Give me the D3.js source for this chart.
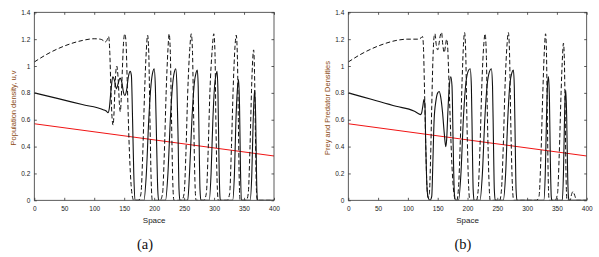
<!DOCTYPE html>
<html>
<head>
<meta charset="utf-8">
<script src="https://cdn.jsdelivr.net/npm/d3@7"></script>
<style>
  body { margin: 0; background: #fff; }
  .sans { font-family: "Liberation Sans", Arial, sans-serif; }
  .serif { font-family: "Liberation Serif", "Times New Roman", "DejaVu Serif", serif; }
</style>
</head>
<body>
<div id="area"></div>
<script>
// axis ticks
var spaceTicks = [0, 50, 100, 150, 200, 250, 300, 350, 400];
var densityTicks = [0, 0.2, 0.4, 0.6, 0.8, 1, 1.2, 1.4];

// (a) prey u, solid
var preyA = [[0,0.8],[40,0.757],[80,0.713],[115,0.675],[120,0.665],[123,0.652],[125,0.68],[128,0.82],
  [131,0.92],[134,0.89],[137,0.83],[140,0.87],[143,0.91],[146,0.88],[149,0.8],[151,0.78],[154,0.82],
  [157,0.92],[160,0.96],[162,0.93],[164,0.6],[166,0.2],[168,0],
  [183,0],[187,0.2],[191,0.6],[195,0.87],[198,0.96],[200,0.98],[202,0.85],[204,0.45],[206,0.08],[207.5,0],
  [219,0],[223,0.2],[227,0.6],[231,0.87],[234,0.96],[236,0.98],[238,0.85],[240,0.45],[241.5,0.08],[243,0],
  [256,0],[259,0.2],[263,0.6],[267,0.87],[270,0.95],[272,0.97],[273.5,0.85],[275,0.45],[276.5,0.08],[278,0],
  [292,0],[295,0.2],[298,0.6],[301,0.86],[303.5,0.94],[305,0.96],[306.5,0.8],[308,0.35],[309.5,0.05],[310.5,0],
  [331,0],[334,0.2],[336.5,0.6],[339,0.83],[341,0.9],[342.5,0.7],[344,0.25],[345.5,0],
  [360,0],[363,0.2],[365,0.55],[367,0.78],[368,0.82],[369.5,0.6],[371,0.15],[372.5,0],[400,0]];

// (a) predator v, dashed
var predA = [[0,1.03],[20,1.085],[40,1.13],[60,1.165],[80,1.19],[100,1.203],[110,1.2],[115,1.19],[118,1.178],
  [121,1.19],[124,1.22],[126,1.1],[128,0.8],[130,0.6],[131.5,0.56],[133,0.65],[135,0.88],[137.5,1.0],[140,0.9],
  [142,0.72],[143.5,0.66],[145,0.75],[147,0.98],[149,1.18],[151,1.24],[153,1.18],[155,0.9],[158,0.45],
  [161,0.15],[164,0.02],[166,0],
  [174,0],[178,0.05],[181,0.35],[184,0.8],[187,1.12],[189,1.23],[191,1.1],[193,0.6],[195,0.15],[197,0],
  [210,0],[214,0.05],[217,0.35],[220,0.8],[223,1.12],[225,1.24],[227,1.1],[229,0.6],[231,0.15],[233,0],
  [246,0],[250,0.05],[253,0.35],[256,0.8],[259.5,1.13],[262,1.24],[264,1.1],[266,0.6],[268,0.15],[270,0],
  [283,0],[287,0.05],[290,0.35],[293,0.8],[297,1.13],[299.5,1.24],[301.5,1.1],[303,0.6],[305,0.15],[307,0],
  [322,0],[326,0.05],[329,0.4],[332,0.85],[335,1.15],[337,1.23],[339,1.05],[340.5,0.6],[342,0.15],[343.5,0],
  [354,0],[357,0.05],[360,0.4],[362.5,0.82],[364.5,1.05],[366,1.12],[367.5,0.95],[369,0.5],[370.5,0.1],[372,0],[400,0]];

// (b) prey, solid
var preyB = [[0,0.8],[40,0.75],[80,0.7],[110,0.665],[118,0.645],[121,0.638],[123,0.65],[125,0.7],[127,0.75],
  [128.5,0.72],[130,0.4],[132,0.1],[134,0.02],[137,0],[140,0.03],[142,0.3],[144,0.6],[147,0.74],[150,0.8],
  [152.5,0.81],[155,0.77],[158,0.66],[161,0.5],[163.5,0.4],[165,0.45],[167,0.65],[169.5,0.85],[172,0.92],
  [174,0.85],[176,0.4],[178,0.05],[180,0],
  [185,0],[189,0.2],[193,0.6],[197,0.86],[201,0.96],[204.5,0.98],[206.5,0.85],[208,0.45],[209.5,0.08],[211,0],
  [221,0],[225,0.2],[229,0.6],[233,0.86],[237,0.96],[240,0.98],[242,0.85],[243.5,0.45],[245,0.08],[246.5,0],
  [260,0],[264,0.2],[267.5,0.6],[271,0.86],[274.5,0.95],[277,0.97],[278.5,0.85],[280,0.45],[281.5,0.08],[283,0],
  [328,0],[330.5,0.2],[332.5,0.6],[334.5,0.88],[336,0.92],[337.5,0.75],[339,0.3],[340.5,0.03],[341.5,0],
  [359,0],[361,0.2],[362.5,0.55],[364,0.78],[365,0.82],[366.5,0.6],[368,0.2],[369.5,0.02],[370.5,0],[400,0]];

// (b) predator, dashed
var predB = [[0,1.03],[20,1.085],[40,1.13],[60,1.165],[80,1.19],[100,1.2],[110,1.2],[118,1.2],[122,1.21],
  [124.5,1.22],[126,1.15],[128,0.8],[130,0.4],[132,0.1],[134,0.02],[136,0.05],[138,0.3],[140,0.7],[142,1.05],
  [144,1.22],[145.5,1.24],[147.5,1.16],[150,1.12],[152,1.16],[154,1.22],[156.5,1.25],[158.5,1.16],[161,1.1],
  [163,1.15],[165,1.2],[166.5,1.16],[168,1.0],[171,0.6],[174,0.25],[177,0.06],[180,0],
  [182,0],[185,0.1],[188,0.45],[191,0.9],[193.5,1.18],[195,1.25],[197,1.1],[199,0.6],[201.5,0.15],[204,0],
  [215,0],[218,0.08],[221,0.4],[224,0.85],[227.5,1.17],[229.5,1.24],[231.5,1.1],[233.5,0.6],[236,0.15],[238,0],
  [254,0],[257,0.08],[260,0.4],[263,0.85],[266.5,1.17],[268.5,1.25],[270.5,1.1],[272.5,0.6],[275,0.15],[277.5,0],
  [316,0],[320,0.03],[323,0.3],[326,0.75],[329,1.12],[331,1.24],[332.5,1.1],[334,0.6],[335.5,0.15],[337,0],
  [347,0],[351,0.05],[354,0.35],[357,0.8],[359.5,1.08],[361,1.17],[362.5,1.05],[364,0.6],[365.5,0.15],[367,0],
  [372,0],[375,0.05],[377,0.065],[380,0.035],[383,0],[400,0]];

// red reference lines
var trendA = [[0,0.57],[400,0.33]];
var trendB = [[0,0.57],[400,0.33]];

var width = 599, height = 257;
var top_y = 12.3, bottom_y = 200.3;

var svg = d3.select("#area")
  .append("svg")
    .attr("width", width)
    .attr("height", height);

function drawPanel(id, left, right, ylabel, caption, capX, prey, pred, trend) {
  var x = d3.scaleLinear().domain([0, 400]).range([left, right]);
  var y = d3.scaleLinear().domain([0, 1.4]).range([bottom_y, top_y]);

  svg.append("clipPath").attr("id", "clip" + id)
    .append("rect")
      .attr("x", left).attr("y", top_y)
      .attr("width", right - left).attr("height", bottom_y - top_y);

  var line = d3.line()
    .x(function(d) { return x(d[0]); })
    .y(function(d) { return y(d[1]); });

  var plot = svg.append("g").attr("clip-path", "url(#clip" + id + ")");

  plot.append("path")
    .attr("d", line.curve(d3.curveLinear)(trend))
    .attr("fill", "none")
    .attr("stroke", "#f01414")
    .attr("stroke-width", 1);

  line.curve(d3.curveMonotoneX);

  plot.append("path")
    .attr("d", line(pred))
    .attr("fill", "none")
    .attr("stroke", "#111")
    .attr("stroke-width", 1)
    .attr("stroke-dasharray", "4.5,2.5");

  plot.append("path")
    .attr("d", line(prey))
    .attr("fill", "none")
    .attr("stroke", "#111")
    .attr("stroke-width", 1.1);

  // axes, ticks pointing inward
  var ax = [
    svg.append("g").attr("transform", "translate(0," + bottom_y + ")")
      .call(d3.axisBottom(x).tickValues(spaceTicks).tickSize(-2.5).tickPadding(6)),
    svg.append("g").attr("transform", "translate(0," + top_y + ")")
      .call(d3.axisTop(x).tickValues(spaceTicks).tickSize(-2.5).tickFormat("")),
    svg.append("g").attr("transform", "translate(" + left + ",0)")
      .call(d3.axisLeft(y).tickValues(densityTicks).tickSize(-2.5).tickPadding(4)
        .tickFormat(function(d) { return String(d); })),
    svg.append("g").attr("transform", "translate(" + right + ",0)")
      .call(d3.axisRight(y).tickValues(densityTicks).tickSize(-2.5).tickFormat(""))
  ];
  ax.forEach(function(g) {
    g.attr("font-family", null).attr("font-size", null);
    g.select(".domain").remove();
    g.selectAll("line").attr("stroke", "#333").attr("stroke-width", 0.8);
    g.selectAll("text")
      .attr("class", "sans")
      .style("font-size", "6.5px")
      .attr("fill", "#1a1a1a");
  });

  svg.append("rect")
    .attr("x", left).attr("y", top_y)
    .attr("width", right - left).attr("height", bottom_y - top_y)
    .attr("fill", "none")
    .attr("stroke", "#333")
    .attr("stroke-width", 0.8);

  svg.append("text")
    .attr("class", "sans")
    .attr("x", (left + right) / 2)
    .attr("y", 222.5)
    .attr("text-anchor", "middle")
    .style("font-size", "8px")
    .attr("fill", "#222")
    .text("Space");

  svg.append("text")
    .attr("class", "sans")
    .attr("transform", "translate(" + (left - 18) + ",108)rotate(-90)")
    .attr("text-anchor", "middle")
    .style("font-size", "7.5px")
    .attr("fill", "#8b4a14")
    .text(ylabel);

  svg.append("text")
    .attr("class", "serif")
    .attr("x", capX)
    .attr("y", 249)
    .attr("text-anchor", "middle")
    .style("font-size", "14.5px")
    .attr("fill", "#111")
    .text(caption);
}

drawPanel("a", 34.3, 274, "Population density, u,v", "(a)", 145, preyA, predA, trendA);
drawPanel("b", 348.3, 586.7, "Prey and Predator Densities", "(b)", 463, preyB, predB, trendB);
</script>
</body>
</html>
